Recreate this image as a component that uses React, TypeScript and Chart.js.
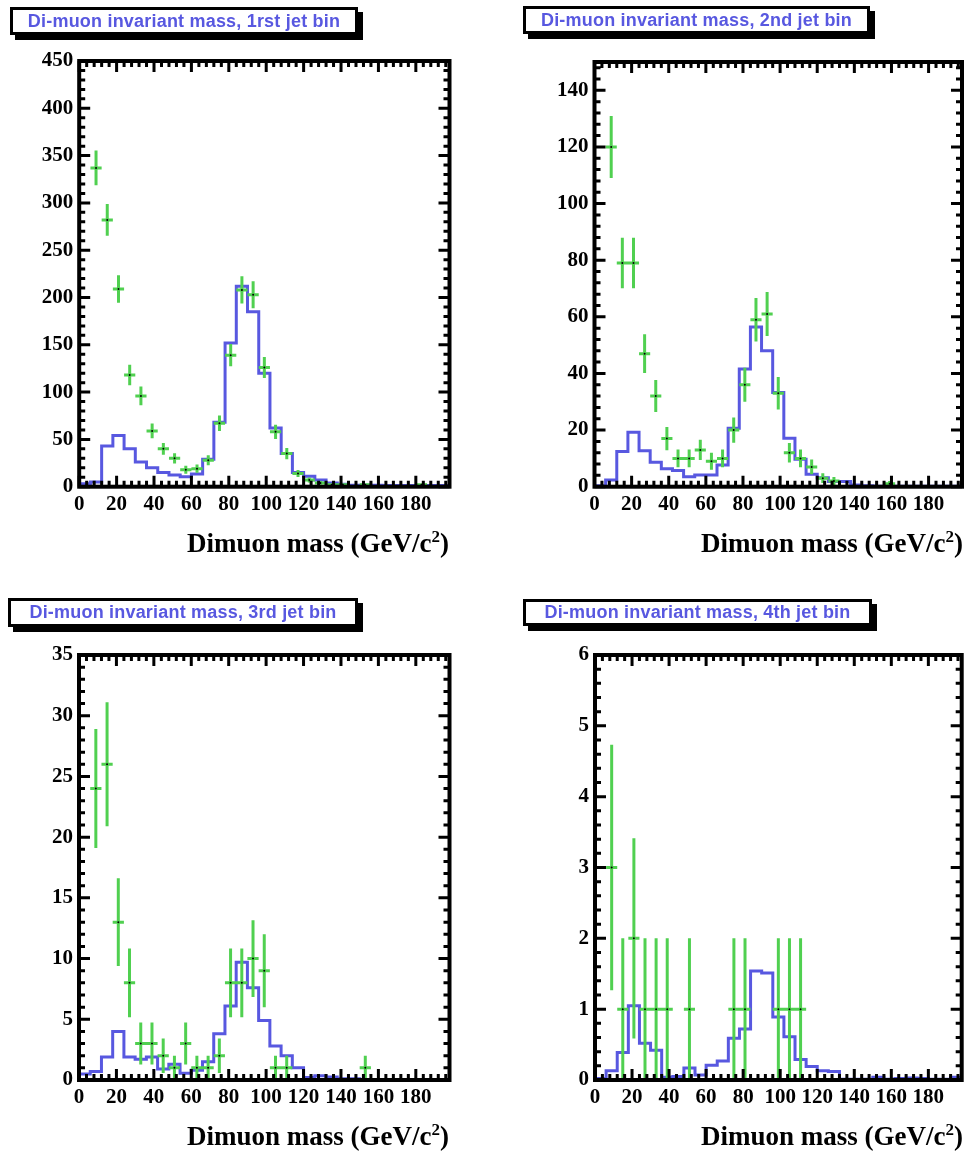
import React, { useEffect, useRef } from "react";
import { Chart, registerables } from "chart.js";

Chart.register(...registerables);

// ---------- data ----------
const massBinEdges = [0, 6, 12, 18, 24, 30, 36, 42, 48, 54, 60, 66, 72, 78, 84, 90, 96, 102, 108, 114, 120, 126, 132, 138, 144, 150, 156, 162, 168, 174, 180, 186, 192, 198];
const xTickStep = 20;

const jet1Mc = [3, 5, 43, 54, 40, 26, 20, 15, 12.5, 10.5, 13.5, 29, 68, 152, 212, 185, 120, 62, 35, 15, 11, 7, 4, 2.5, 1.5, 1.5, 1.5, 1.2, 1.2, 1.2, 1.2, 1.2, 1.2];
const jet1Data = [0, 337, 282, 209, 118, 96, 59, 40, 30, 18, 19, 28, 67, 139, 208, 203, 126, 58, 35, 14, 7, 4, 2, 2, 0, 2, 0, 0, 0, 0, 2, 0, 0];

const jet2Mc = [0.3, 2.4, 12.4, 19.2, 12.7, 8.6, 6.3, 5.7, 3.5, 4.1, 4.1, 7.7, 20.6, 41.6, 56.4, 48, 33.3, 17.1, 9.7, 4.4, 3.2, 1.8, 1.8, 0.6, 0.3, 0.2, 0.2, 0.2, 0.2, 0.2, 0.2, 0.2, 0.2];
const jet2Data = [0, 120, 79, 79, 47, 32, 17, 10, 10, 13, 9, 10, 20, 36, 59, 61, 33, 12, 10, 7, 3, 2, 0, 0, 0, 0, 1, 0, 0, 0, 0, 0, 0];

const jet3Mc = [0.5, 0.7, 1.9, 4.0, 1.9, 1.7, 1.9, 0.9, 1.3, 0.55, 0.8, 1.5, 3.8, 6.1, 9.7, 7.6, 4.9, 2.8, 2.0, 1.0, 0.2, 0.35, 0.25, 0.1, 0.1, 0.05, 0.05, 0.05, 0.05, 0.05, 0.05, 0.05, 0.05];
const jet3Data = [0, 24, 26, 13, 8, 3, 3, 2, 1, 3, 1, 1, 2, 8, 8, 10, 9, 1, 1, 0, 0, 0, 0, 0, 0, 1, 0, 0, 0, 0, 0, 0, 0];

const jet4Mc = [0.02, 0.13, 0.39, 1.05, 0.52, 0.42, 0.04, 0.05, 0.17, 0.07, 0.21, 0.27, 0.59, 0.72, 1.54, 1.51, 0.89, 0.61, 0.29, 0.19, 0.13, 0.12, 0.01, 0.01, 0.01, 0.04, 0.01, 0.02, 0.03, 0.02, 0.01, 0.01, 0.04];
const jet4Data = [0, 3, 1, 2, 1, 1, 1, 0, 1, 0, 0, 0, 1, 1, 0, 0, 1, 1, 1, 0, 0, 0, 0, 0, 0, 0, 0, 0, 0, 0, 0, 0, 0];

const panelTitles = [
  "Di-muon invariant mass, 1rst jet bin",
  "Di-muon invariant mass, 2nd jet bin",
  "Di-muon invariant mass, 3rd jet bin",
  "Di-muon invariant mass, 4th jet bin",
];
const yMaxima = [450, 150, 35, 6];
const yTickSteps = [50, 20, 5, 1];
const xAxisTitleText = "Dimuon mass (GeV/c";
const xAxisTitleSup = "2";
const xAxisTitleEnd = ")";

// ---------- style ----------
const BLUE = "#5858e0";
const GREEN = "#50d050";
const CW = 483;
const CH = 577;
const X_AXIS_H = 40;

const panelGeom = [
  { cx: 0, cy: 0, left: 79.2, right: 449.5, top: 61, bottom: 486.7,
    box: { left: 10, top: 7, width: 348, height: 28 }, titleRight: 449, titleTop: 530 },
  { cx: 483, cy: 0, left: 111.5, right: 479.8, top: 62, bottom: 486.7,
    box: { left: 523, top: 6, width: 347, height: 28 }, titleRight: 963, titleTop: 530 },
  { cx: 0, cy: 577, left: 79, right: 449.5, top: 78, bottom: 503,
    box: { left: 8, top: 598, width: 350, height: 29 }, titleRight: 449, titleTop: 1123 },
  { cx: 483, cy: 577, left: 112, right: 478.7, top: 78, bottom: 503,
    box: { left: 523, top: 599, width: 349, height: 27 }, titleRight: 963, titleTop: 1123 },
];

const mcSeries = [jet1Mc, jet2Mc, jet3Mc, jet4Mc];
const dataSeries = [jet1Data, jet2Data, jet3Data, jet4Data];

// ---------- plugins ----------
const errorBarPlugin = {
  id: "poissonErrorBars",
  afterDatasetDraw(chart: any, args: any) {
    if (args.index !== 1) return;
    const { ctx, chartArea, scales } = chart;
    const x = scales.x;
    const y = scales.y;
    const pts = chart.data.datasets[0].data as any[];
    ctx.save();
    ctx.beginPath();
    ctx.rect(chartArea.left, chartArea.top, chartArea.right - chartArea.left, chartArea.bottom - chartArea.top);
    ctx.clip();
    ctx.strokeStyle = GREEN;
    ctx.lineWidth = 3;
    ctx.lineCap = "butt";
    ctx.beginPath();
    for (const p of pts) {
      const err = Math.sqrt(p.y);
      const px = x.getPixelForValue(p.x);
      const py = y.getPixelForValue(p.y);
      ctx.moveTo(px, y.getPixelForValue(p.y - err));
      ctx.lineTo(px, y.getPixelForValue(p.y + err));
      ctx.moveTo(x.getPixelForValue(p.lo), py);
      ctx.lineTo(x.getPixelForValue(p.hi), py);
    }
    ctx.stroke();
    ctx.restore();
  },
};

const framePlugin = {
  id: "rootFrame",
  afterDraw(chart: any) {
    const { ctx, chartArea, scales } = chart;
    const { left, right, top, bottom } = chartArea;
    const x = scales.x;
    const y = scales.y;
    ctx.save();
    ctx.strokeStyle = "#000";
    ctx.lineWidth = 3;
    ctx.lineCap = "butt";
    ctx.beginPath();
    const xs = x.options.ticks.stepSize;
    const xm = xs / 5;
    for (let k = 0; k * xm <= x.max + 1e-9; k++) {
      const v = k * xm;
      const len = k % 5 === 0 ? 11 : 6;
      const px = x.getPixelForValue(v);
      ctx.moveTo(px, bottom);
      ctx.lineTo(px, bottom - len);
      ctx.moveTo(px, top);
      ctx.lineTo(px, top + len);
    }
    const ys = y.options.ticks.stepSize;
    const ym = ys / 5;
    for (let k = 0; k * ym <= y.max + 1e-9; k++) {
      const v = k * ym;
      const len = k % 5 === 0 ? 11 : 6;
      const py = y.getPixelForValue(v);
      ctx.moveTo(left, py);
      ctx.lineTo(left + len, py);
      ctx.moveTo(right, py);
      ctx.lineTo(right - len, py);
    }
    ctx.stroke();
    ctx.lineWidth = 4;
    ctx.strokeRect(left, top, right - left, bottom - top);
    ctx.restore();
  },
};

const tickFont = { family: '"Liberation Serif", "Times New Roman", serif', weight: "bold" as const, size: 21 };

function Panel({ i }: { i: number }) {
  const ref = useRef<HTMLCanvasElement>(null);
  const g = panelGeom[i];
  useEffect(() => {
    const canvas = ref.current;
    if (!canvas) return;
    const mc = mcSeries[i];
    const counts = dataSeries[i];
    // each edge carries the content of the bin that starts there; the last edge closes the final bin
    const histPoints = massBinEdges.map((e, k) => ({ x: e, y: mc[Math.min(k, mc.length - 1)] }));
    const dataPoints = counts
      .map((c, k) => ({
        x: (massBinEdges[k] + massBinEdges[k + 1]) / 2,
        y: c,
        lo: massBinEdges[k],
        hi: massBinEdges[k + 1],
      }))
      .filter((p) => p.y > 0);
    const chart = new Chart(canvas, {
      type: "scatter",
      data: {
        datasets: [
          {
            type: "scatter",
            data: dataPoints as any,
            pointRadius: 1,
            pointBackgroundColor: "#000",
            pointBorderWidth: 0,
            showLine: false,
          } as any,
          {
            type: "line",
            data: histPoints,
            stepped: "before",
            borderColor: BLUE,
            borderWidth: 3,
            pointRadius: 0,
            fill: false,
          } as any,
        ],
      },
      options: {
        animation: false,
        responsive: false,
        devicePixelRatio: 1,
        layout: {
          padding: { left: 0, top: g.top, right: CW - g.right, bottom: CH - g.bottom - X_AXIS_H },
        },
        plugins: { legend: { display: false }, tooltip: { enabled: false }, title: { display: false } },
        scales: {
          x: {
            type: "linear",
            position: "bottom",
            min: massBinEdges[0],
            max: massBinEdges[massBinEdges.length - 1],
            grid: { display: false, drawTicks: false },
            border: { display: false },
            ticks: {
              stepSize: xTickStep,
              includeBounds: false,
              autoSkip: false,
              maxRotation: 0,
              padding: 5,
              color: "#000",
              font: tickFont,
            },
            afterFit: (s: any) => {
              s.height = X_AXIS_H;
            },
          },
          y: {
            type: "linear",
            min: 0,
            max: yMaxima[i],
            grid: { display: false, drawTicks: false },
            border: { display: false },
            ticks: {
              stepSize: yTickSteps[i],
              includeBounds: false,
              autoSkip: false,
              padding: 6,
              color: "#000",
              font: tickFont,
            },
            afterFit: (s: any) => {
              s.width = g.left;
            },
          },
        },
      } as any,
      plugins: [errorBarPlugin, framePlugin],
    });
    return () => chart.destroy();
  }, [i]);

  return (
    <>
      <canvas
        ref={ref}
        width={CW}
        height={CH}
        style={{ position: "absolute", left: g.cx, top: g.cy, width: CW, height: CH }}
      />
      <div
        style={{
          position: "absolute",
          left: g.box.left,
          top: g.box.top,
          width: g.box.width,
          height: g.box.height,
          boxSizing: "border-box",
          border: "3px solid #000",
          boxShadow: "5px 5px 0 #000",
          background: "#fff",
          color: BLUE,
          fontFamily: '"Liberation Sans", Arial, sans-serif',
          fontWeight: "bold",
          fontSize: 18,
          letterSpacing: "0.2px",
          lineHeight: `${g.box.height - 6}px`,
          textAlign: "center",
          whiteSpace: "nowrap",
        }}
      >
        {panelTitles[i]}
      </div>
      <div
        style={{
          position: "absolute",
          left: g.titleRight - 400,
          width: 400,
          top: g.titleTop,
          textAlign: "right",
          fontFamily: '"Liberation Serif", "Times New Roman", serif',
          fontWeight: "bold",
          fontSize: 27,
          lineHeight: "27px",
          whiteSpace: "nowrap",
          color: "#000",
        }}
      >
        {xAxisTitleText}
        <span style={{ fontSize: 17, position: "relative", top: -10, verticalAlign: "baseline" }}>{xAxisTitleSup}</span>
        {xAxisTitleEnd}
      </div>
    </>
  );
}

export default function App() {
  return (
    <div style={{ position: "absolute", left: 0, top: 0, width: 966, height: 1154, background: "#fff", overflow: "hidden" }}>
      {[0, 1, 2, 3].map((i) => (
        <Panel key={i} i={i} />
      ))}
    </div>
  );
}
